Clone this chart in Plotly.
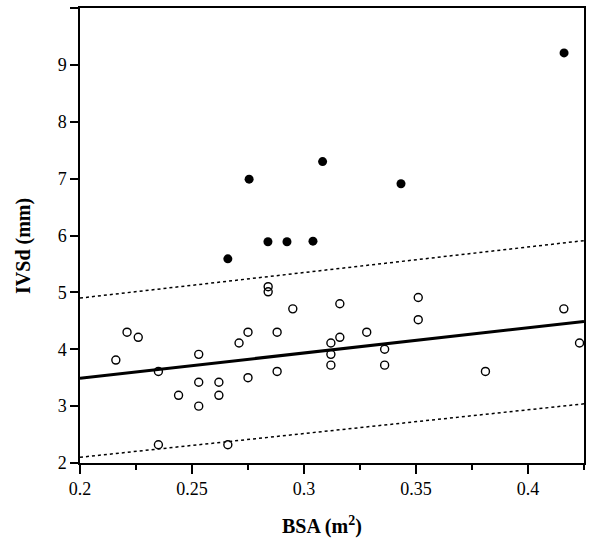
import plotly.graph_objects as go

# Open circles: normal subjects
bsa_normal = [0.221, 0.226, 0.216, 0.235, 0.253, 0.253, 0.262, 0.244, 0.262, 0.253,
              0.235, 0.266, 0.271, 0.275, 0.275, 0.284, 0.284, 0.288, 0.288, 0.295,
              0.316, 0.316, 0.312, 0.312, 0.312, 0.328, 0.336, 0.336, 0.351, 0.351,
              0.381, 0.416, 0.423]
ivsd_normal = [4.30, 4.21, 3.81, 3.61, 3.91, 3.42, 3.42, 3.19, 3.19, 3.00,
               2.32, 2.32, 4.11, 4.30, 3.50, 5.10, 5.01, 4.30, 3.61, 4.71,
               4.80, 4.21, 4.11, 3.91, 3.72, 4.30, 4.00, 3.72, 4.91, 4.52,
               3.61, 4.71, 4.11]

# Filled circles: affected subjects
bsa_affected = [0.2755, 0.3083, 0.2839, 0.2924, 0.3040, 0.2660, 0.3433, 0.4161]
ivsd_affected = [6.99, 7.30, 5.89, 5.89, 5.90, 5.59, 6.91, 9.21]

# Regression line and prediction limits (endpoints)
line_x = [0.2, 0.425]
fit_y = [3.49, 4.49]
upper_y = [4.90, 5.91]
lower_y = [2.10, 3.04]

x_ticks = [0.2, 0.25, 0.3, 0.35, 0.4]
x_ticklabels = ["0.2", "0.25", "0.3", "0.35", "0.4"]
y_ticks = [2, 3, 4, 5, 6, 7, 8, 9, 10]

font_fam = "Liberation Serif, Times New Roman, serif"

fig = go.Figure()
fig.add_trace(go.Scatter(x=line_x, y=upper_y, mode="lines",
                         line=dict(color="black", width=1.5, dash="3px,3px"),
                         hoverinfo="skip", showlegend=False))
fig.add_trace(go.Scatter(x=line_x, y=lower_y, mode="lines",
                         line=dict(color="black", width=1.5, dash="3px,3px"),
                         hoverinfo="skip", showlegend=False))
fig.add_trace(go.Scatter(x=line_x, y=fit_y, mode="lines",
                         line=dict(color="black", width=3),
                         hoverinfo="skip", showlegend=False))
fig.add_trace(go.Scatter(x=bsa_normal, y=ivsd_normal, mode="markers",
                         marker=dict(symbol="circle-open", size=8, color="black",
                                     line=dict(width=1.4, color="black")),
                         showlegend=False))
fig.add_trace(go.Scatter(x=bsa_affected, y=ivsd_affected, mode="markers",
                         marker=dict(symbol="circle", size=9, color="black"),
                         showlegend=False))

fig.update_layout(
    width=600, height=538,
    margin=dict(l=80, r=16, t=6, b=75),
    paper_bgcolor="white", plot_bgcolor="white",
    font=dict(family=font_fam, size=18, color="black"),
    showlegend=False,
    xaxis=dict(range=[0.2, 0.425], tickvals=x_ticks, ticktext=x_ticklabels,
               ticks="outside", ticklen=9, tickwidth=1.5, tickcolor="black",
               showline=True, linecolor="black", linewidth=1.5, mirror=True,
               showgrid=False, zeroline=False,
               minor=dict(dtick=0.025, tick0=0.2, ticks="outside", ticklen=5,
                          tickwidth=1.5, tickcolor="black", showgrid=False),
               tickfont=dict(family=font_fam, size=18)),
    yaxis=dict(range=[2, 10], tickvals=y_ticks,
               ticks="outside", ticklen=8, tickwidth=1.5, tickcolor="black",
               showline=True, linecolor="black", linewidth=1.5, mirror=True,
               showgrid=False, zeroline=False,
               tickfont=dict(family=font_fam, size=18)),
    annotations=[
        dict(text="<b>IVSd (mm)</b>", textangle=-90, xref="paper", yref="paper",
             x=(24 - 80) / 504, y=(463 - 245) / 457, xanchor="center", yanchor="middle",
             showarrow=False, font=dict(family=font_fam, size=20, color="black")),
        dict(text="<b>BSA (m<sup>2</sup>)</b>", xref="paper", yref="paper",
             x=(322 - 80) / 504, y=-(526 - 463) / 457, xanchor="center", yanchor="middle",
             showarrow=False, font=dict(family=font_fam, size=20, color="black")),
    ],
)

fig.write_html("out.html", config={"displayModeBar": False},
               post_script="document.body.style.margin='0';document.body.style.padding='0';")
